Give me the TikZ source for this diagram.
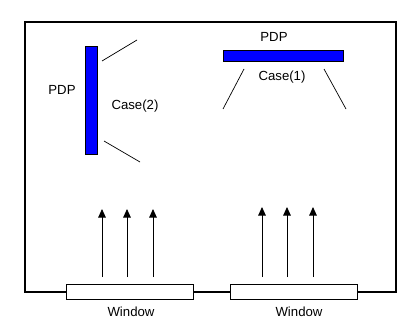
\documentclass[tikz,border=0pt]{standalone}
\usepackage{fontspec}
\setmainfont{Liberation Sans}
\usetikzlibrary{arrows.meta}
\begin{document}
\begin{tikzpicture}[x=1pt,y=-1pt,
  lbl/.style={font=\fontsize{13.2}{15}\selectfont, inner sep=0pt},
  pdp/.style={draw=black, fill=blue, line width=0.8pt},
  win/.style={draw=black, fill=white, line width=0.9pt},
  ray/.style={line width=0.7pt},
  up/.style={line width=0.9pt, -{Triangle[length=8.5pt,width=7.5pt]}}]
\useasboundingbox (0,0) rectangle (420,329);
\draw[line width=2pt] (25,22) rectangle (396,292);
% PDP bars
\node[pdp, minimum width=12pt, minimum height=108pt, inner sep=0pt] (bar2) at (91,100) {};
\node[pdp, minimum width=120pt, minimum height=11pt, inner sep=0pt] (bar1) at (283,55.5) {};
% rays case 2
\coordinate (a1) at (102,61); \coordinate (a2) at (137,40);
\coordinate (b1) at (104,141); \coordinate (b2) at (140,162);
\draw[ray] (a1) -- (a2);
\draw[ray] (b1) -- (b2);
% rays case 1
\coordinate (c1) at (244,69); \coordinate (c2) at (223,109);
\coordinate (d1) at (324,69); \coordinate (d2) at (346,109);
\draw[ray] (c1) -- (c2);
\draw[ray] (d1) -- (d2);
% labels
\node[lbl] (pdpL) at (62,90) {PDP};
\node[lbl] (case2) at (135,106) {Case(2)};
\node[lbl] (pdpR) at (274,37) {PDP};
\node[lbl] (case1) at (282,77) {Case(1)};
% windows
\node[win, minimum width=127pt, minimum height=15pt, inner sep=0pt] (w1) at (129.5,291.5) {};
\node[win, minimum width=127pt, minimum height=15pt, inner sep=0pt] (w2) at (293.5,291.5) {};
\node[lbl] (wl1) at (131,312) {Window};
\node[lbl] (wl2) at (299,312) {Window};
% arrows
\foreach \x/\n in {102/l1,127/l2,153/l3}{
  \coordinate (\n s) at (\x,277); \coordinate (\n e) at (\x,209);
  \draw[up] (\n s) -- (\n e);}
\foreach \x/\n in {262/r1,287/r2,313/r3}{
  \coordinate (\n s) at (\x,277); \coordinate (\n e) at (\x,207);
  \draw[up] (\n s) -- (\n e);}
\end{tikzpicture}
\end{document}
